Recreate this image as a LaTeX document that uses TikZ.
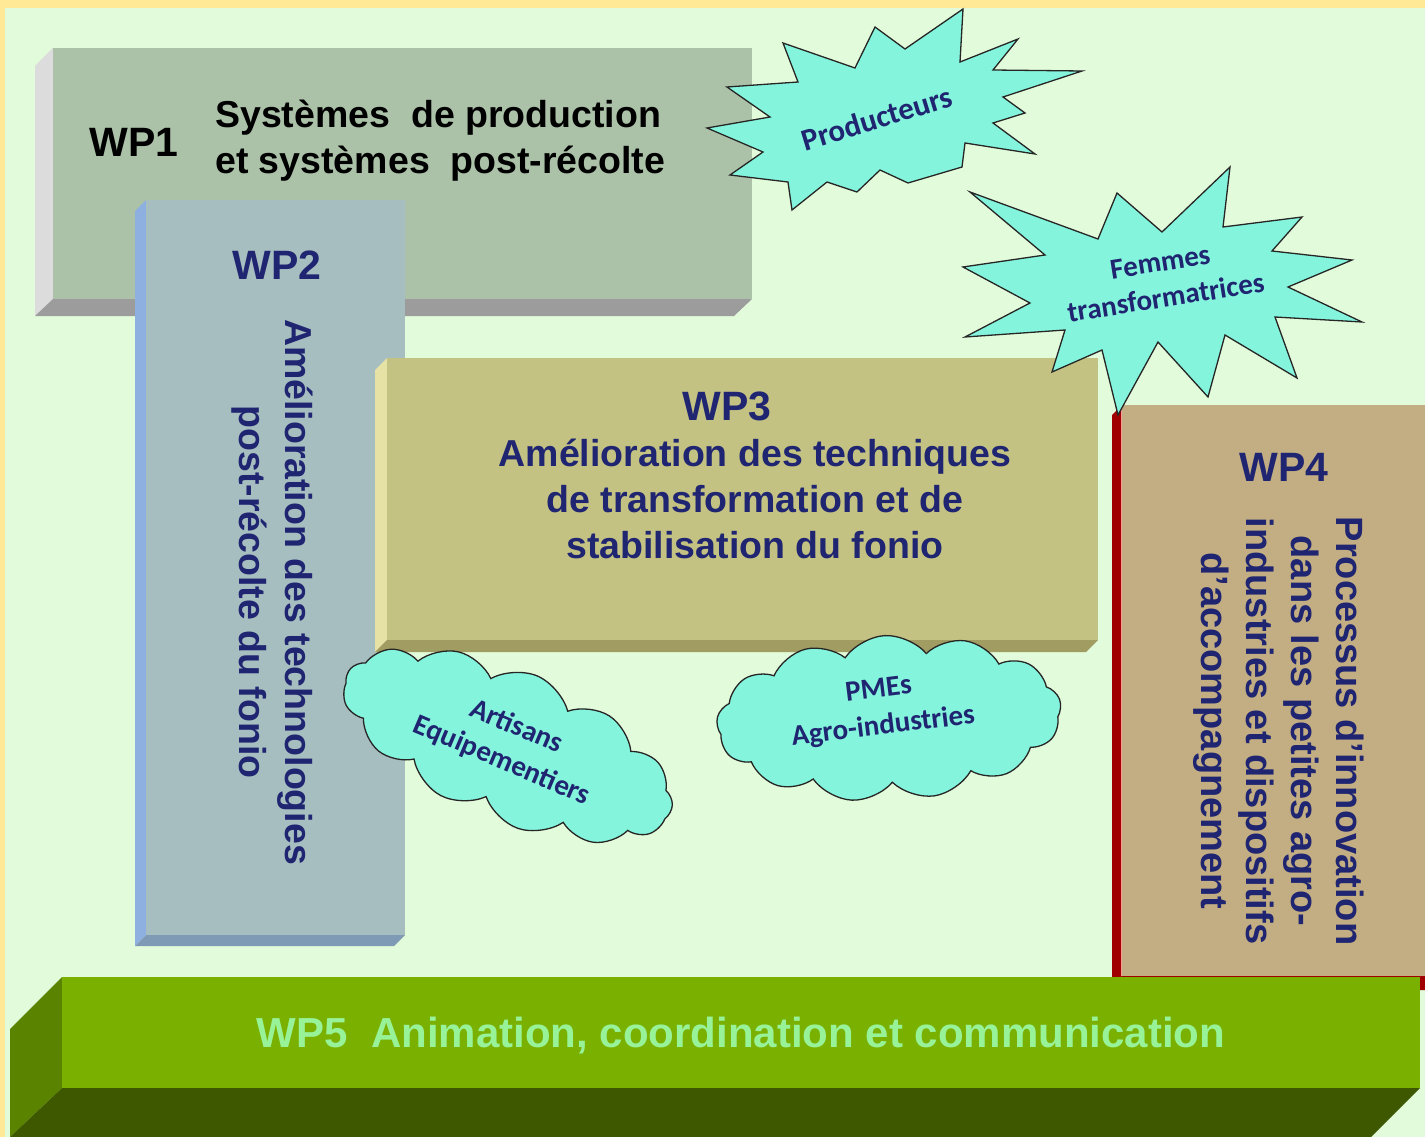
\documentclass[tikz,border=0pt]{standalone}
\usepackage{fontspec}
\setmainfont{Liberation Sans}
\newfontfamily\carlito{Carlito}
\usetikzlibrary{shapes.symbols}
\definecolor{bgyellow}{HTML}{FFE896}
\definecolor{bggreen}{HTML}{E2FBDA}
\definecolor{wpAfront}{HTML}{ABC2A8}
\definecolor{wpAside}{HTML}{DCDCDC}
\definecolor{wpAbottom}{HTML}{9C9C9C}
\definecolor{wpBfront}{HTML}{A6BEC0}
\definecolor{wpBside}{HTML}{8EB0E0}
\definecolor{wpBbottom}{HTML}{7F9AB5}
\definecolor{wpCfront}{HTML}{C4C283}
\definecolor{wpCside}{HTML}{E6E2A6}
\definecolor{wpCbottom}{HTML}{A09C62}
\definecolor{wpDfront}{HTML}{C2AE82}
\definecolor{wpDside}{HTML}{A00000}
\definecolor{wpEfront}{HTML}{7AB000}
\definecolor{wpEside}{HTML}{5A8400}
\definecolor{wpEbottom}{HTML}{3E5800}
\definecolor{aqua}{HTML}{84F5DC}
\definecolor{navy}{HTML}{1F2570}
\definecolor{wpEtext}{HTML}{98F298}
\begin{document}
\begin{tikzpicture}[x=1pt,y=-1pt,
  wplabel/.style={font=\fontsize{41}{46}\selectfont\bfseries, text=navy, inner sep=0pt, anchor=base},
  body/.style={font=\fontsize{37.5}{46}\selectfont\bfseries, text=navy, align=center, inner sep=0pt},
  actor/.style={font=\carlito\fontsize{29}{37}\selectfont\bfseries, text=navy, align=center, inner sep=0pt},
  bubble/.style={fill=aqua, draw=black!85, line width=1.3pt},
  puff/.style={cloud, cloud puffs=13, cloud puff arc=105, cloud ignores aspect, fill=aqua, draw=black!85, line width=1.3pt, inner sep=0pt}
]
\useasboundingbox (0,0) rectangle (1425,1137);
% background
\fill[bgyellow] (0,0) rectangle (1425,1137);
\fill[bggreen] (5,8) rectangle (1425,1137);

% WP1 box
\fill[wpAside] (53,48) -- (35,66) -- (35,316) -- (53,299) -- cycle;
\fill[wpAbottom] (53,299) -- (752,299) -- (734,316) -- (35,316) -- cycle;
\fill[wpAfront] (53,48) rectangle (752,299);

% WP2 box
\fill[wpBside] (146,200) -- (135,211) -- (135,946) -- (146,935) -- cycle;
\fill[wpBbottom] (146,935) -- (405,935) -- (394,946) -- (135,946) -- cycle;
\fill[wpBfront] (146,200) rectangle (405,935);

% WP3 box
\fill[wpCside] (387,358) -- (375,370) -- (375,652) -- (387,640) -- cycle;
\fill[wpCbottom] (387,640) -- (1098,640) -- (1086,652) -- (375,652) -- cycle;
\fill[wpCfront] (387,358) rectangle (1098,640);

% WP4 box
\fill[wpDside] (1122,405) -- (1112,415) -- (1112,986) -- (1122,976) -- cycle;
\fill[wpDside] (1122,976) -- (1425,976) -- (1425,990) -- (1112,990) -- cycle;
\fill[wpDfront] (1122,405) rectangle (1425,976);
\draw[red!40!white, line width=1.2pt] (1121.4,408) -- (1121.4,976);

% WP5 box
\fill[wpEside] (62,977) -- (10,1029) -- (10,1137) -- (62,1088) -- cycle;
\fill[wpEbottom] (62,1088) -- (1420,1088) -- (1371,1137) -- (10,1137) -- cycle;
\fill[wpEfront] (62,977) rectangle (1420,1088);

% texts of the boxes
\node[wplabel, text=black] (wp1) at (134,157) {WP1};
\node[body, text=black, align=left, anchor=west] (wp1t) at (215,141)
  {Systèmes~ de production\\et systèmes~ post-récolte};
\node[wplabel] (wp2) at (277,279) {WP2};
\node[body, rotate=-90] (wp2t) at (272,592)
  {Amélioration des technologies\\post-récolte du fonio};
\node[wplabel] (wp3) at (727,420) {WP3};
\node[body] (wp3t) at (755,499)
  {Amélioration des techniques\\de transformation et de\\stabilisation du fonio};
\node[wplabel] (wp4) at (1284,481) {WP4};
\node[body, rotate=-90, font=\fontsize{38}{45}\selectfont\bfseries] (wp4t) at (1279,731)
  {Processus d’innovation\\dans les petites agro-\\industries et dispositifs\\d’accompagnement};
\node[wplabel, font=\fontsize{42}{46}\selectfont\bfseries, text=wpEtext] (wp5) at (741,1047)
  {WP5~ Animation, coordination et communication};

% clouds
\node[puff, minimum width=352pt, minimum height=150pt, rotate=-23] (cloudA) at (508,745) {};
\node[actor, rotate=-23] (artisans) at (509,744) {Artisans\\Equipementiers};
\node[puff, minimum width=345pt, minimum height=165pt, rotate=3] (cloudB) at (889,718) {};
\node[actor, rotate=7] (pme) at (881,709) {PMEs\\Agro-industries};

% starburst Producteurs
\filldraw[bubble] (783,43) -- (855,68) -- (875,27) -- (905,49) -- (963,9) -- (960,62)
  -- (1018,39) -- (993,70) -- (1082,71) -- (1003,97) -- (1025,113) -- (993,123)
  -- (1035,154) -- (965,143) -- (962,167) -- (908,183) -- (880,170) -- (857,192)
  -- (827,182) -- (792,210) -- (788,182) -- (730,175) -- (763,152) -- (707,128)
  -- (770,117) -- (727,87) -- (798,82) -- cycle;
\node[actor, rotate=17, font=\carlito\fontsize{31}{37}\selectfont\bfseries] (prod) at (877,118) {Producteurs};

% starburst Femmes transformatrices
\filldraw[bubble] (970,192) -- (1098,239) -- (1117,193) -- (1162,232) -- (1230,167)
  -- (1223,227) -- (1302,217) -- (1272,251) -- (1352,260) -- (1288,287) -- (1362,322)
  -- (1275,317) -- (1297,378) -- (1225,335) -- (1208,397) -- (1158,342) -- (1118,415)
  -- (1102,350) -- (1052,372) -- (1065,330) -- (965,337) -- (1030,303) -- (963,267)
  -- (1045,255) -- cycle;
\node[actor, rotate=9, font=\carlito\fontsize{29}{36}\selectfont\bfseries] (femmes) at (1163,280) {Femmes\\transformatrices};
\end{tikzpicture}
\end{document}
